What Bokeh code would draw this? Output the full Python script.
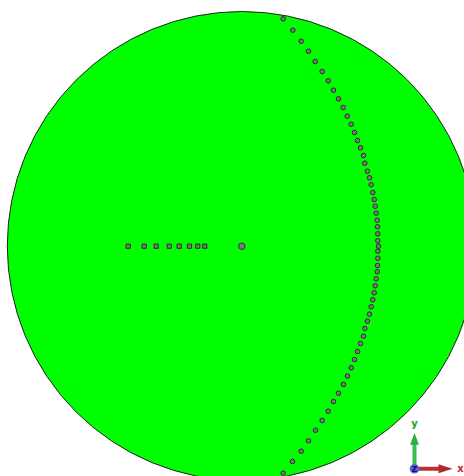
from bokeh.plotting import figure
from bokeh.embed import file_html
from bokeh.resources import INLINE
from bokeh.core.properties import value

# geometry in the model's units, origin at the disc centre, y upward
disc_radius = 234.5
ring_x = [41.4,51,59.4,66.7,73.4,80.4,86.4,91.7,96.7,101.4,105.4,109.4,112.7,115.7,118.7,121.7,123,125.6,127.7,129.4,131,132.4,133.4,134.4,135.4,135.7,136,136,136.7,136,136,135.7,135.4,134.4,133.4,132.4,131,129.4,127.7,125.6,123,121.7,118.7,115.7,112.7,109.4,105.7,101.7,96.7,91.7,86.4,80.4,73.7,66.7,59.4,50.7,41.4]
ring_y = [227.2,215.8,204.8,194.8,184.5,174.5,165.2,155.8,147.2,138.5,129.8,121.8,113.5,105.5,98.2,90.5,82.8,74.8,68.2,61.2,53.5,46.5,39.8,32.8,25.8,19.2,12.2,5.2,-0.2,-5.2,-12.2,-19.5,-25.8,-32.8,-39.8,-46.8,-53.8,-60.8,-68.2,-75.2,-82.5,-90.2,-97.5,-105.5,-113.5,-121.8,-130,-138.5,-147.2,-155.5,-165.2,-174.5,-184.2,-194.8,-205.2,-215.5,-227.2]
spoke_x = [-113.6,-97.6,-85.6,-72.6,-62.6,-52.3,-44,-37]
spoke_y = [-0.2,-0.2,-0.2,-0.2,-0.2,-0.2,-0.2,-0.2]
hub_x = [0]
hub_y = [-0.2]
cx, cy = 241.3, 245.5

W, H = 464, 476
p = figure(width=W, height=H, output_backend="svg", toolbar_location=None,
           x_range=(-cx, W - cx), y_range=(cy - H, cy),
           min_border=0, outline_line_color=None, background_fill_color="white",
           border_fill_color="white")
p.axis.visible = False
p.grid.visible = False

p.circle([0], [0], radius=disc_radius, fill_color="#00ff00", line_color="#222222", line_width=1)
p.scatter(ring_x, ring_y, size=4.6, fill_color="#7a7a7a", line_color="#2a2a2a", line_width=1)
p.scatter(spoke_x, spoke_y, size=4.2, marker="square", fill_color="#7a7a7a", line_color="#2a2a2a", line_width=1)
p.scatter(hub_x, hub_y, size=6.5, fill_color="#7a7a7a", line_color="#333333", line_width=1)

# coordinate triad
ox, oy = 414 - cx, cy - 468.3
p.quad(left=[ox - 2], right=[ox + 2], bottom=[oy], top=[oy + 26], fill_color="#3cba54", line_color=None)
p.patch([ox - 4.5, ox + 4.5, ox], [oy + 24, oy + 24, oy + 36], fill_color="#2fae48", line_color=None)
p.quad(left=[ox], right=[ox + 26], bottom=[oy - 2], top=[oy + 2], fill_color="#b83030", line_color=None)
p.patch([ox + 24, ox + 24, ox + 38], [oy - 4.5, oy + 4.5, oy], fill_color="#b02a2a", line_color=None)
p.circle([ox], [oy], radius=4.8, fill_color="#6060d0", line_color=None)
for t, dx, dy, col in [("x", 46, 0, "#e02020"), ("y", 0, 45, "#10a030"), ("z", 0, 0, "#101090")]:
    p.text([ox + dx], [oy + dy], text=[t], text_color=col, text_font=value("DejaVu Sans"),
           text_font_size="10px", text_font_style="bold", text_align="center", text_baseline="middle")

open("out.html", "w").write(file_html(p, INLINE))
